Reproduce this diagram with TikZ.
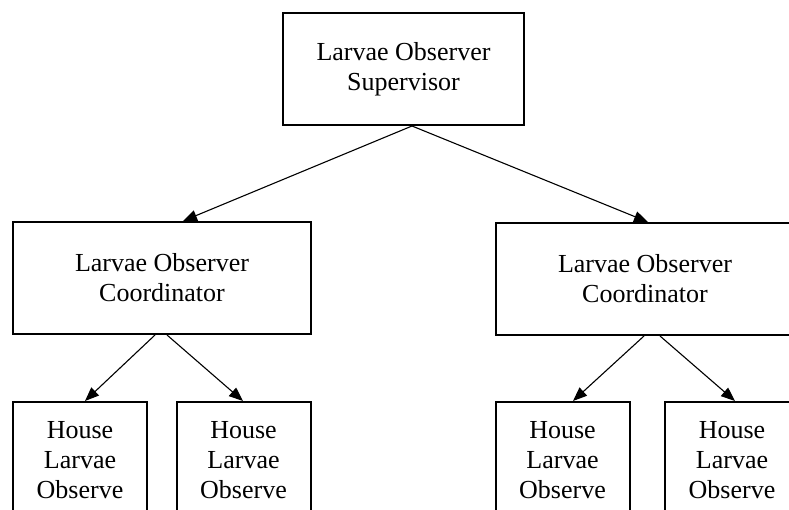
\documentclass[tikz,border=0pt]{standalone}
\usepackage{fontspec}
\setmainfont{Liberation Serif}
\usetikzlibrary{arrows.meta}
\tikzset{
    box/.style={draw, line width=2pt, align=center, inner sep=0pt, font=\fontsize{26}{30}\selectfont},
    link/.style={-{Triangle[length=14pt,width=11pt]}, line width=1.1pt},
}
\begin{document}
\begin{tikzpicture}[x=1pt,y=-1pt]
        \useasboundingbox (0,0) rectangle (789,510);
        \clip (0,0) rectangle (789,510);
        \node[box, minimum width=241pt, minimum height=112pt] (sup) at (403.5,69) {Larvae Observer\\Supervisor};
        \node[box, minimum width=298pt, minimum height=112pt] (coordL) at (162,278) {Larvae Observer\\Coordinator};
        \node[box, minimum width=298pt, minimum height=112pt] (coordR) at (645,279) {Larvae Observer\\Coordinator};
        \foreach \name/\x in {houseA/80, houseB/243.5, houseC/562.5, houseD/732}
        {
            \node[box, minimum width=134pt, minimum height=116pt] (\name) at (\x,460) {House\\Larvae\\Observe};
        }
        \draw[link] ([xshift=8.5pt]sup.south) -- ([xshift=21pt]coordL.north);
        \draw[link] ([xshift=8.5pt]sup.south) -- ([xshift=3pt]coordR.north);
        \draw[link] ([xshift=-7pt]coordL.south) -- ([xshift=5pt]houseA.north);
        \draw[link] ([xshift=5pt]coordL.south) -- ([xshift=-0.5pt]houseB.north);
        \draw[link] ([xshift=-1pt]coordR.south) -- ([xshift=10.5pt]houseC.north);
        \draw[link] ([xshift=15pt]coordR.south) -- ([xshift=3pt]houseD.north);
    \end{tikzpicture}
\end{document}
